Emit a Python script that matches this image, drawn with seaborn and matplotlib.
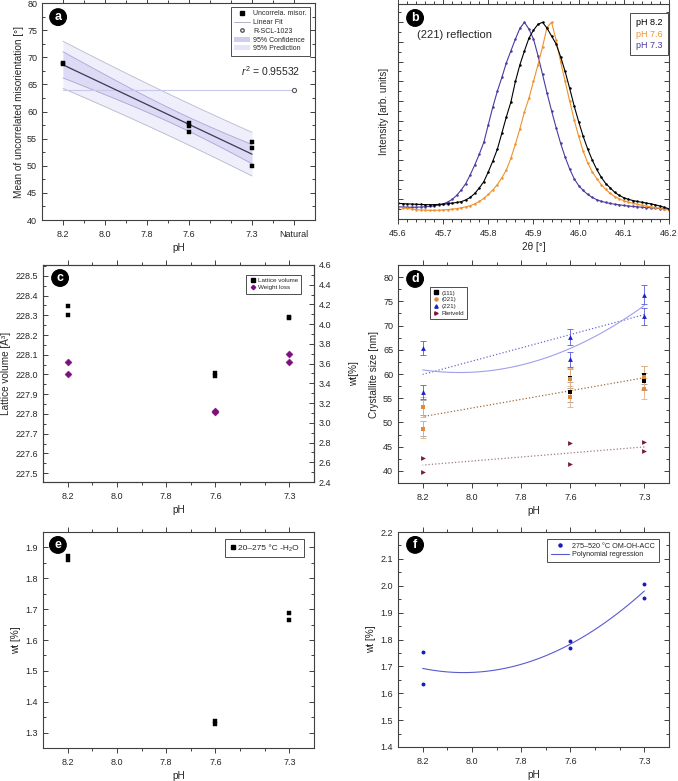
import numpy as np
import pandas as pd
import seaborn as sns
import matplotlib
matplotlib.use("Agg")
import matplotlib.pyplot as plt
from matplotlib.lines import Line2D
from matplotlib.patches import Patch
from matplotlib.ticker import MultipleLocator, FixedLocator, NullFormatter

# ---------------------------------------------------------------- data
# (a) misorientation vs pH
misor_ph = [8.2, 8.2, 7.6, 7.6, 7.6, 7.3, 7.3, 7.3]
misor_val = [69.0, 68.7, 57.8, 57.4, 56.2, 54.3, 53.2, 49.9]
natural_x = 7.1
natural_val = 64.0
r2_text = "0.95532"

# (b) (221) reflection, normalised intensity
two_theta = [45.60, 45.61, 45.62, 45.63, 45.64, 45.65, 45.66, 45.67, 45.68, 45.69,
             45.70, 45.71, 45.72, 45.73, 45.74, 45.75, 45.76, 45.77, 45.78, 45.79,
             45.80, 45.81, 45.82, 45.83, 45.84, 45.85, 45.86, 45.87, 45.88, 45.89,
             45.90, 45.91, 45.92, 45.93, 45.94, 45.95, 45.96, 45.97, 45.98, 45.99,
             46.00, 46.01, 46.02, 46.03, 46.04, 46.05, 46.06, 46.07, 46.08, 46.09,
             46.10, 46.11, 46.12, 46.13, 46.14, 46.15, 46.16, 46.17, 46.18, 46.19, 46.20]
int_82 = [0.080, 0.078, 0.077, 0.076, 0.075, 0.074, 0.073, 0.073, 0.073, 0.074,
          0.075, 0.078, 0.081, 0.084, 0.088, 0.097, 0.110, 0.130, 0.158, 0.190,
          0.240, 0.295, 0.355, 0.437, 0.520, 0.595, 0.700, 0.785, 0.855, 0.920,
          0.960, 0.990, 1.000, 0.970, 0.930, 0.890, 0.825, 0.750, 0.665, 0.575,
          0.495, 0.420, 0.356, 0.300, 0.252, 0.212, 0.180, 0.158, 0.135, 0.120,
          0.108, 0.100, 0.094, 0.089, 0.085, 0.081, 0.077, 0.072, 0.066, 0.059, 0.052]
int_76 = [0.060, 0.057, 0.054, 0.051, 0.048, 0.046, 0.045, 0.044, 0.044, 0.045,
          0.046, 0.048, 0.050, 0.053, 0.057, 0.062, 0.068, 0.077, 0.089, 0.105,
          0.125, 0.148, 0.175, 0.210, 0.250, 0.310, 0.380, 0.460, 0.545, 0.615,
          0.700, 0.785, 0.875, 0.975, 1.000, 0.910, 0.800, 0.700, 0.600, 0.505,
          0.420, 0.345, 0.285, 0.240, 0.205, 0.175, 0.150, 0.130, 0.114, 0.102,
          0.093, 0.086, 0.080, 0.075, 0.070, 0.066, 0.062, 0.058, 0.054, 0.050, 0.045]
int_73 = [0.062, 0.061, 0.060, 0.060, 0.060, 0.061, 0.062, 0.064, 0.067, 0.071,
          0.077, 0.086, 0.100, 0.120, 0.148, 0.180, 0.225, 0.275, 0.330, 0.390,
          0.480, 0.570, 0.650, 0.720, 0.795, 0.855, 0.915, 0.970, 1.000, 0.965,
          0.915, 0.830, 0.735, 0.640, 0.550, 0.465, 0.385, 0.315, 0.255, 0.205,
          0.170, 0.145, 0.125, 0.110, 0.098, 0.090, 0.084, 0.079, 0.075, 0.072,
          0.069, 0.066, 0.064, 0.062, 0.060, 0.058, 0.057, 0.055, 0.053, 0.052, 0.050]

# (c) lattice volume and weight loss
lat_ph = [8.2, 8.2, 7.6, 7.6, 7.3, 7.3]
lat_vol = [228.345, 228.30, 228.01, 227.99, 228.29, 228.285]
wl_ph = [8.2, 8.2, 7.6, 7.6, 7.3, 7.3]
wl_val = [3.62, 3.49, 3.12, 3.11, 3.70, 3.62]

# (d) crystallite size
cs_ph = [8.2, 8.2, 7.6, 7.6, 7.3, 7.3]
cs_111 = [53.1, 48.7, 59.1, 56.3, 59.8, 58.5]
err_111 = [1.5, 1.5, 2.0, 2.0, 1.8, 1.8]
cs_021 = [53.2, 48.6, 59.0, 55.3, 59.3, 57.0]
err_021 = [2.0, 1.8, 2.3, 2.2, 2.3, 2.2]
cs_221 = [65.4, 56.3, 67.6, 63.0, 76.4, 71.9]
err_221 = [1.5, 1.4, 1.7, 1.6, 1.9, 1.8]
cs_riet = [42.7, 39.8, 45.7, 41.4, 45.9, 44.2]

# (e) water loss 20-275 C
e_ph = [8.2, 8.2, 7.6, 7.6, 7.3, 7.3]
e_wt = [1.871, 1.860, 1.336, 1.327, 1.689, 1.665]

# (f) 275-520 C loss
f_ph = [8.2, 8.2, 7.6, 7.6, 7.3, 7.3]
f_wt = [1.752, 1.633, 1.796, 1.770, 2.008, 1.953]

ph_major = [8.2, 8.0, 7.8, 7.6, 7.3]
ph_minor = [8.1, 7.9, 7.7, 7.5, 7.4]

# ---------------------------------------------------------------- style
sns.set_style("ticks")
plt.rcParams['font.family'] = ['Liberation Sans', 'DejaVu Sans']
plt.rcParams['mathtext.fontset'] = 'custom'
plt.rcParams['mathtext.rm'] = 'Liberation Sans'
plt.rcParams['mathtext.it'] = 'Liberation Sans:italic'
plt.rcParams['axes.linewidth'] = 0.8
plt.rcParams['axes.edgecolor'] = '0.25'

TICK = 6.5
LAB = 7.2

fig = plt.figure(figsize=(6.78, 7.81), dpi=100)
W, H = 678.0, 781.0


def add_ax(l, r, t, b):
    return fig.add_axes([l / W, 1 - b / H, (r - l) / W, (b - t) / H])


def style_ax(ax, right=True):
    ax.tick_params(which='both', labelsize=TICK, width=0.7, color='0.25',
                   top=True, right=right)
    ax.tick_params(which='major', length=3.5)
    ax.tick_params(which='minor', length=2)
    ax.tick_params(axis='x', which='both', direction='out')
    ax.tick_params(axis='y', which='both', direction='in')


def ph_axis(ax):
    ax.set_xlim(8.3, 7.2)
    ax.xaxis.set_major_locator(FixedLocator(ph_major))
    ax.xaxis.set_minor_locator(FixedLocator(ph_minor))
    ax.set_xticklabels([f"{v:.1f}" for v in ph_major])
    ax.set_xlabel("pH", fontsize=LAB, labelpad=3)


def badge(ax, letter, x, y):
    ax.text(x, y, letter, transform=ax.transAxes, ha='center', va='center',
            color='white', fontsize=9, fontweight='bold', zorder=10,
            bbox=dict(boxstyle='circle,pad=0.18', fc='black', ec='black'))


def legend_box(ax, handles, labels, size, **kw):
    opts = dict(fontsize=size, frameon=True, fancybox=False, framealpha=1,
                edgecolor='0.3', borderaxespad=0, handletextpad=0.5,
                borderpad=0.5, labelspacing=0.25)
    opts.update(kw)
    leg = ax.legend(handles, labels, **opts)
    leg.get_frame().set_linewidth(0.7)
    return leg


# ---------------------------------------------------------------- (a)
ax = add_ax(42, 315, 3, 220)
xa = np.array(misor_ph)
ya = np.array(misor_val)
n = len(xa)
slope, icpt = np.polyfit(xa, ya, 1)
resid = ya - (slope * xa + icpt)
s = np.sqrt(np.sum(resid ** 2) / (n - 2))
sxx = np.sum((xa - xa.mean()) ** 2)
t95 = 2.447  # t(0.975, df=6)
xg = np.linspace(7.3, 8.2, 100)
yg = slope * xg + icpt
conf = t95 * s * np.sqrt(1 / n + (xg - xa.mean()) ** 2 / sxx)
pred = t95 * s * np.sqrt(1 + 1 / n + (xg - xa.mean()) ** 2 / sxx)

c_pred = '#efeefb'
c_conf = '#dcdaf5'
ax.fill_between(xg, yg - pred, yg + pred, color=c_pred, lw=0)
ax.fill_between(xg, yg - conf, yg + conf, color=c_conf, lw=0)
for sgn in (-1, 1):
    ax.plot(xg, yg + sgn * pred, color='#b8b8cc', lw=0.6)
    ax.plot(xg, yg + sgn * conf, color='#a8a6d6', lw=0.6)
ax.plot([8.2, natural_x], [natural_val, natural_val], color='#c8c8ea', lw=0.8)
sns.lineplot(x=xg, y=yg, color='#3a3a55', lw=0.9, ax=ax)
sns.scatterplot(x=misor_ph, y=misor_val, marker='s', color='black', s=10,
                edgecolor='black', linewidth=0.3, ax=ax, zorder=5)
ax.scatter([natural_x], [natural_val], marker='o', s=9, facecolor='white',
           edgecolor='0.35', linewidth=0.8, zorder=5)
ax.text(7.21, 67.4, r"$\it{r}^2$ = " + r2_text, fontsize=7.5, ha='center', va='center')

ax.set_xlim(8.3, 7.0)
ax.set_ylim(40, 80)
ax.xaxis.set_major_locator(FixedLocator([8.2, 8.0, 7.8, 7.6, 7.3, natural_x]))
ax.xaxis.set_minor_locator(FixedLocator([8.1, 7.9, 7.7, 7.5, 7.4, 7.2]))
ax.set_xticklabels(["8.2", "8.0", "7.8", "7.6", "7.3", "Natural"])
ax.yaxis.set_major_locator(MultipleLocator(5))
ax.yaxis.set_minor_locator(MultipleLocator(2.5))
ax.set_xlabel("pH", fontsize=LAB, labelpad=3)
ax.set_ylabel("Mean of uncorrelated misorientation [°]", fontsize=LAB, labelpad=2)
style_ax(ax)
badge(ax, 'a', 0.059, 0.935)
h = [Line2D([], [], marker='s', color='black', ls='', ms=2.5),
     Line2D([], [], color='#b0b0c8', lw=0.7),
     Line2D([], [], marker='o', mfc='white', mec='0.35', ls='', ms=2.5),
     Patch(fc='#cfcdf0', ec='none'),
     Patch(fc='#e6e5f8', ec='none')]
legend_box(ax, h, ["Uncorrela. misor.", "Linear Fit", "R-SCL-1023",
                   "95% Confidence", "95% Prediction"], 5,
           loc='upper right', bbox_to_anchor=(0.982, 0.982), handlelength=2.2)

# ---------------------------------------------------------------- (b)
ax = add_ax(398, 669, 4, 219)
xrd = pd.DataFrame({'tt': two_theta, 'pH 8.2': int_82, 'pH 7.6': int_76, 'pH 7.3': int_73})
cols_b = {'pH 8.2': 'black', 'pH 7.6': '#f0922a', 'pH 7.3': '#4a3aa0'}
for key in ['pH 7.3', 'pH 7.6', 'pH 8.2']:
    sns.lineplot(data=xrd, x='tt', y=key, color=cols_b[key], lw=0.8, marker='o',
                 markersize=1.8, markeredgewidth=0, ax=ax)
ax.set_xlim(45.6, 46.2)
ax.set_ylim(0, 1.093)
ax.xaxis.set_major_locator(MultipleLocator(0.1))
ax.xaxis.set_minor_locator(MultipleLocator(0.02))
ax.yaxis.set_major_locator(MultipleLocator(0.1))
ax.yaxis.set_minor_locator(MultipleLocator(0.05))
ax.yaxis.set_major_formatter(NullFormatter())
ax.set_xlabel("2θ [°]", fontsize=LAB, labelpad=3)
ax.set_ylabel("Intensity [arb. units]", fontsize=LAB)
ax.yaxis.set_label_coords(-0.035, 0.5)
style_ax(ax)
ax.text(0.07, 0.855, "(221) reflection", transform=ax.transAxes, fontsize=8,
        va='center')
badge(ax, 'b', 0.063, 0.935)
hb = [Line2D([], [], ls='') for _ in range(3)]
leg = legend_box(ax, hb, ['pH 8.2', 'pH 7.6', 'pH 7.3'], 6.5, loc='upper right',
                 bbox_to_anchor=(0.996, 0.958), handlelength=0, handletextpad=0,
                 borderpad=0.6)
for txt, key in zip(leg.get_texts(), ['pH 8.2', 'pH 7.6', 'pH 7.3']):
    txt.set_color(cols_b[key])

# ---------------------------------------------------------------- (c)
ax = add_ax(43, 314, 265, 482)
ax2 = ax.twinx()
sns.scatterplot(x=lat_ph, y=lat_vol, marker='s', color='black', s=9,
                edgecolor='black', linewidth=0.3, ax=ax, zorder=5)
sns.scatterplot(x=wl_ph, y=wl_val, marker='D', color='#7d0f7d', s=13,
                edgecolor='#7d0f7d', linewidth=0.3, ax=ax2, zorder=5)
ph_axis(ax)
ax.set_ylim(227.455, 228.555)
ax.yaxis.set_major_locator(MultipleLocator(0.1))
ax.yaxis.set_minor_locator(MultipleLocator(0.05))
ax.set_ylabel("Lattice volume [Å³]", fontsize=LAB, labelpad=3)
style_ax(ax, right=False)
ax2.set_ylim(2.4, 4.6)
ax2.yaxis.set_major_locator(MultipleLocator(0.2))
ax2.yaxis.set_minor_locator(MultipleLocator(0.1))
ax2.tick_params(which='both', labelsize=TICK, direction='in', width=0.7, color='0.25')
ax2.tick_params(which='major', length=3.5)
ax2.tick_params(which='minor', length=2)
ax2.set_ylabel("wt[%]", fontsize=LAB)
ax2.yaxis.set_label_coords(1.13, 0.5)
badge(ax, 'c', 0.063, 0.94)
hc = [Line2D([], [], marker='s', color='black', ls='', ms=2.2),
      Line2D([], [], marker='D', color='#7d0f7d', ls='', ms=2.2)]
legend_box(ax2, hc, ["Lattice volume", "Weight loss"], 4.5, loc='upper right',
           bbox_to_anchor=(0.952, 0.954), handlelength=1.0, handletextpad=0.3)

# ---------------------------------------------------------------- (d)
ax = add_ax(398, 669, 265, 483)
xg = np.linspace(7.3, 8.2, 100)
xd = np.array(cs_ph * 2)
# fits
lin_b = np.polyfit(cs_ph, cs_221, 1)
quad_b = np.polyfit(cs_ph, cs_221, 2)
lin_o = np.polyfit(xd, cs_111 + cs_021, 1)
lin_r = np.polyfit(cs_ph, cs_riet, 1)
sns.lineplot(x=xg, y=np.polyval(lin_b, xg), color='#6a6ad8', lw=0.9, ls=':', ax=ax)
sns.lineplot(x=xg, y=np.polyval(quad_b, xg), color='#a0a0ec', lw=0.8, ax=ax)
sns.lineplot(x=xg, y=np.polyval(lin_o, xg), color='#a06a3a', lw=0.9, ls=':', ax=ax)
sns.lineplot(x=xg, y=np.polyval(lin_r, xg), color='#a07890', lw=0.9, ls=':', ax=ax)
ax.errorbar(cs_ph, cs_111, yerr=err_111, fmt='none', ecolor='#9a9a9a', elinewidth=0.6,
            capsize=2.2, capthick=0.6)
ax.errorbar(cs_ph, cs_021, yerr=err_021, fmt='none', ecolor='#e8b080', elinewidth=0.6,
            capsize=2.2, capthick=0.6)
ax.errorbar(cs_ph, cs_221, yerr=err_221, fmt='none', ecolor='#5a5ad8', elinewidth=0.6,
            capsize=2.2, capthick=0.6)
sns.scatterplot(x=cs_ph, y=cs_111, marker='s', color='black', s=9, linewidth=0, ax=ax, zorder=5)
sns.scatterplot(x=cs_ph, y=cs_021, marker='s', color='#e08a3c', s=9, linewidth=0, ax=ax, zorder=5)
sns.scatterplot(x=cs_ph, y=cs_221, marker='^', color='#1f1fc8', s=12, linewidth=0, ax=ax, zorder=5)
sns.scatterplot(x=cs_ph, y=cs_riet, marker='>', color='#7a1840', s=12, linewidth=0, ax=ax, zorder=5)
ph_axis(ax)
ax.set_ylim(37.5, 82.5)
ax.yaxis.set_major_locator(MultipleLocator(5))
ax.yaxis.set_minor_locator(MultipleLocator(2.5))
ax.set_ylabel("Crystallite size [nm]", fontsize=LAB, labelpad=3)
style_ax(ax)
badge(ax, 'd', 0.063, 0.936)
hd = [Line2D([], [], marker='s', color='black', ls='', ms=2.2),
      Line2D([], [], marker='o', color='#e08a3c', ls='', ms=2.2),
      Line2D([], [], marker='^', color='#1f1fc8', ls='', ms=2.4),
      Line2D([], [], marker='>', color='#7a1840', ls='', ms=2.4)]
legend_box(ax, hd, ["(111)", "(021)", "(221)", "Rietveld"], 4.5, loc='upper left',
           bbox_to_anchor=(0.118, 0.899), handlelength=1.0, handletextpad=0.3)

# ---------------------------------------------------------------- (e)
ax = add_ax(43, 314, 532, 748)
sns.scatterplot(x=e_ph, y=e_wt, marker='s', color='black', s=9, linewidth=0.3,
                edgecolor='black', ax=ax, zorder=5)
ph_axis(ax)
ax.set_ylim(1.25, 1.95)
ax.yaxis.set_major_locator(MultipleLocator(0.1))
ax.yaxis.set_minor_locator(MultipleLocator(0.05))
ax.set_ylabel("wt [%]", fontsize=LAB, labelpad=3)
style_ax(ax)
badge(ax, 'e', 0.055, 0.94)
he = [Line2D([], [], marker='s', color='black', ls='', ms=2.2)]
legend_box(ax, he, ["20–275 °C -H₂O"], 6, loc='upper right',
           bbox_to_anchor=(0.963, 0.968), handlelength=0.6, handletextpad=0.4,
           borderpad=0.6)

# ---------------------------------------------------------------- (f)
ax = add_ax(398, 669, 532, 747)
quad_f = np.polyfit(f_ph, f_wt, 2)
sns.lineplot(x=xg, y=np.polyval(quad_f, xg), color='#5a5ad0', lw=0.8, ax=ax)
sns.scatterplot(x=f_ph, y=f_wt, marker='o', color='#1a1ab4', s=8, linewidth=0,
                ax=ax, zorder=5)
ph_axis(ax)
ax.set_ylim(1.4, 2.2)
ax.yaxis.set_major_locator(MultipleLocator(0.1))
ax.yaxis.set_minor_locator(MultipleLocator(0.05))
ax.set_ylabel("wt [%]", fontsize=LAB, labelpad=3)
style_ax(ax)
badge(ax, 'f', 0.063, 0.94)
hf = [Line2D([], [], marker='o', color='#1a1ab4', ls='', ms=2.2),
      Line2D([], [], color='#5a5ad0', lw=0.8)]
legend_box(ax, hf, ["275–520 °C OM-OH-ACC", "Polynomial regression"], 5.2,
           loc='upper right', bbox_to_anchor=(0.963, 0.968), handlelength=2.5)

fig.savefig("out.png", dpi=100)
